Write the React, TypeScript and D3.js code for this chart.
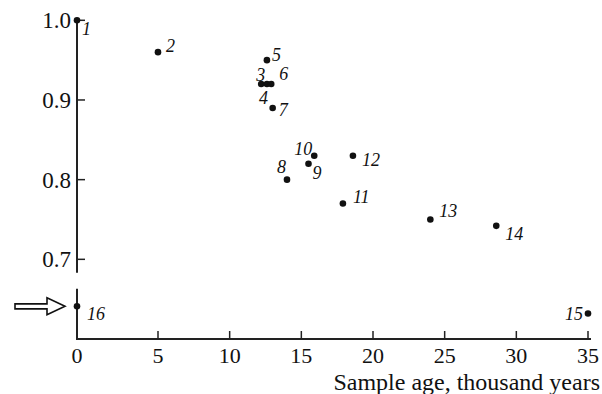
import * as d3 from "d3";

// sample numbers, ages (thousand years) and the measured ratio
const sampleIds = ["1", "2", "3", "4", "5", "6", "7", "8", "9", "10", "11", "12", "13", "14", "15", "16"];
const sampleAges = [0, 5.0, 12.2, 12.6, 12.6, 12.9, 13.0, 14.0, 15.5, 15.9, 17.9, 18.6, 24.0, 28.6, 35.0, 0];
const sampleValues = [1.0, 0.96, 0.92, 0.92, 0.95, 0.92, 0.89, 0.8, 0.82, 0.83, 0.77, 0.83, 0.75, 0.742, 0.632, 0.641];

const xTicks = [0, 5, 10, 15, 20, 25, 30, 35];
const yTicks = [0.7, 0.8, 0.9, 1.0];
const xTitle = "Sample age, thousand years";

// label placement next to each dot: [dx, dy, anchor]
const labelPos: [number, number, string][] = [
  [5, 15, "start"],
  [8, 0, "start"],
  [-5, -3, "start"],
  [-8, 20, "start"],
  [5, 1, "start"],
  [8, -4, "start"],
  [6, 8, "start"],
  [-1, -7, "end"],
  [4, 15, "start"],
  [-2, -1, "end"],
  [10, -1, "start"],
  [9, 10, "start"],
  [9, -2, "start"],
  [9, 14, "start"],
  [-5, 6, "end"],
  [10, 14, "start"],
];

const W = 602;
const H = 394;
const serif = "'Liberation Serif', 'DejaVu Serif', serif";

export default function App() {
  // the first 5-unit interval is drawn a bit wider in the original
  const x = d3.scaleLinear().domain([0, 5, 35]).range([77, 158, 588]);
  const y = d3.scaleLinear().domain([0.6, 1.0]).range([339, 20.3]);

  const axisColor = "#222";
  const breakTop = 0.683;
  const breakBottom = 0.663;

  const arrowY = y(0.641);
  const ax = x(0) - 12;
  const arrow = `M${ax - 50},${arrowY - 2.5} L${ax - 18},${arrowY - 2.5} L${ax - 18},${arrowY - 8.5} L${ax},${arrowY} L${ax - 18},${arrowY + 8.5} L${ax - 18},${arrowY + 2.5} L${ax - 50},${arrowY + 2.5} Z`;

  return (
    <svg
      width={W}
      height={H}
      style={{ position: "absolute", left: 0, top: 0, background: "#fff", fontFamily: serif }}
    >
      {/* y axis with a break above sample 16 */}
      <line x1={x(0)} x2={x(0)} y1={y(1.0)} y2={y(breakTop)} stroke={axisColor} strokeWidth={2} />
      <line x1={x(0)} x2={x(0)} y1={y(breakBottom)} y2={y(0.6)} stroke={axisColor} strokeWidth={2} />
      {yTicks.map((t) => (
        <g key={t}>
          <line x1={x(0)} x2={x(0) + 8} y1={y(t)} y2={y(t)} stroke={axisColor} strokeWidth={1.5} />
          <text x={x(0) - 6} y={y(t) + 8} textAnchor="end" fontSize={23} fill="#111">
            {t.toFixed(1)}
          </text>
        </g>
      ))}

      {/* x axis */}
      <line x1={x(0) - 1} x2={x(35) + 3} y1={y(0.6)} y2={y(0.6)} stroke={axisColor} strokeWidth={2} />
      {xTicks.map((t) => (
        <g key={t}>
          {t > 0 && (
            <line x1={x(t)} x2={x(t)} y1={y(0.6)} y2={y(0.6) - 8} stroke={axisColor} strokeWidth={1.5} />
          )}
          <text x={x(t)} y={363} textAnchor="middle" fontSize={22} fill="#111">
            {t}
          </text>
        </g>
      ))}
      <text x={600} y={390} textAnchor="end" fontSize={24} fill="#111">
        {xTitle}
      </text>

      {/* points */}
      {sampleIds.map((id, i) => {
        const cx = x(sampleAges[i]);
        const cy = y(sampleValues[i]);
        const [dx, dy, anchor] = labelPos[i];
        return (
          <g key={id}>
            <circle cx={cx} cy={cy} r={3.3} fill="#111" />
            <text
              x={cx + dx}
              y={cy + dy}
              textAnchor={anchor}
              fontSize={18}
              fill="#111"
              style={{ fontStyle: "italic" }}
            >
              {id}
            </text>
          </g>
        );
      })}

      {/* hollow arrow pointing at sample 16 */}
      <path d={arrow} fill="#fff" stroke="#111" strokeWidth={1.6} strokeLinejoin="miter" />
    </svg>
  );
}
